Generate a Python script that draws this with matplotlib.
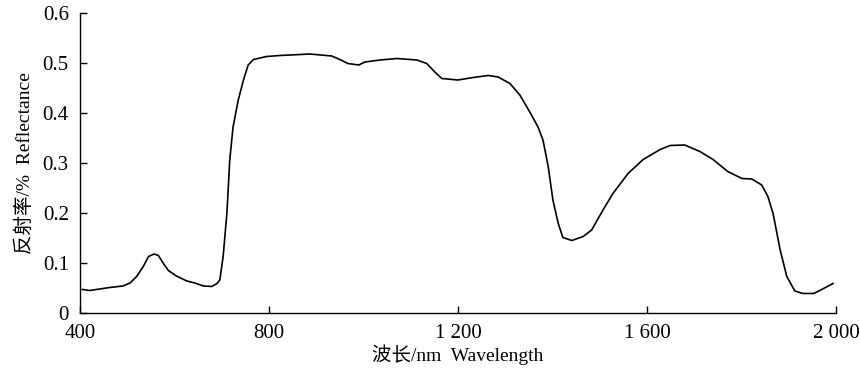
import numpy as np
import matplotlib.pyplot as plt

# spectrum (wavelength nm, reflectance)
wavelength = [405, 421, 463, 491, 506, 520, 534, 545, 557, 566, 576, 587, 604, 626, 643, 661, 679, 690, 696,
              703, 711, 717, 724, 735, 746, 756, 767, 795, 823, 866, 887, 933, 950, 967, 990, 1003, 1035, 1071,
              1113, 1134, 1151, 1166, 1200, 1232, 1264, 1285, 1310, 1331, 1352, 1369, 1380, 1391, 1401, 1412,
              1422, 1441, 1465, 1483, 1507, 1528, 1560, 1592, 1628, 1649, 1680, 1712, 1740, 1771, 1801, 1822,
              1843, 1856, 1867, 1882, 1896, 1913, 1930, 1953, 1972, 1994]
reflectance = [0.047, 0.045, 0.051, 0.054, 0.060, 0.073, 0.093, 0.113, 0.118, 0.115, 0.100, 0.085, 0.074, 0.064,
               0.060, 0.054, 0.053, 0.059, 0.066, 0.113, 0.200, 0.306, 0.372, 0.426, 0.466, 0.496, 0.507, 0.513,
               0.515, 0.517, 0.518, 0.514, 0.507, 0.499, 0.496, 0.502, 0.506, 0.509, 0.506, 0.499, 0.482, 0.469,
               0.466, 0.471, 0.475, 0.472, 0.459, 0.436, 0.402, 0.373, 0.346, 0.293, 0.226, 0.180, 0.151, 0.145,
               0.153, 0.166, 0.206, 0.239, 0.279, 0.307, 0.327, 0.335, 0.336, 0.323, 0.307, 0.283, 0.269, 0.268,
               0.256, 0.233, 0.199, 0.126, 0.073, 0.044, 0.039, 0.039, 0.048, 0.059]

xticks = [400, 800, 1200, 1600, 2000]
xticklabels = ['400', '800', '1 200', '1 600', '2 000']
yticks = [0, 0.1, 0.2, 0.3, 0.4, 0.5, 0.6]
yticklabels = ['0', '0.1', '0.2', '0.3', '0.4', '0.5', '0.6']

plt.rcParams['font.family'] = ['Liberation Serif', 'Noto Sans CJK SC']

fig = plt.figure(figsize=(8.6, 3.76), dpi=100)
ax = fig.add_axes([0.093, 0.1676, 0.879, 0.7978])
ax.plot(wavelength, reflectance, color='black', linewidth=1.2)

ax.set_xlim(400, 2000)
ax.set_ylim(0, 0.6)
ax.set_xticks(xticks)
ax.set_xticklabels(xticklabels)
ax.set_yticks(yticks)
ax.set_yticklabels(yticklabels)
ax.tick_params(direction='in', length=5, width=1, labelsize=15)
ax.tick_params(axis='x', pad=8)
ax.tick_params(axis='y', pad=8)
ax.spines['top'].set_visible(False)
ax.spines['right'].set_visible(False)
ax.spines['left'].set_linewidth(1)
ax.spines['bottom'].set_linewidth(1)

ax.set_xlabel('波长/nm  Wavelength', fontsize=14, labelpad=1)
ax.set_ylabel('反射率/%  Reflectance', fontsize=14, labelpad=6)

fig.savefig('out.png', dpi=100)
